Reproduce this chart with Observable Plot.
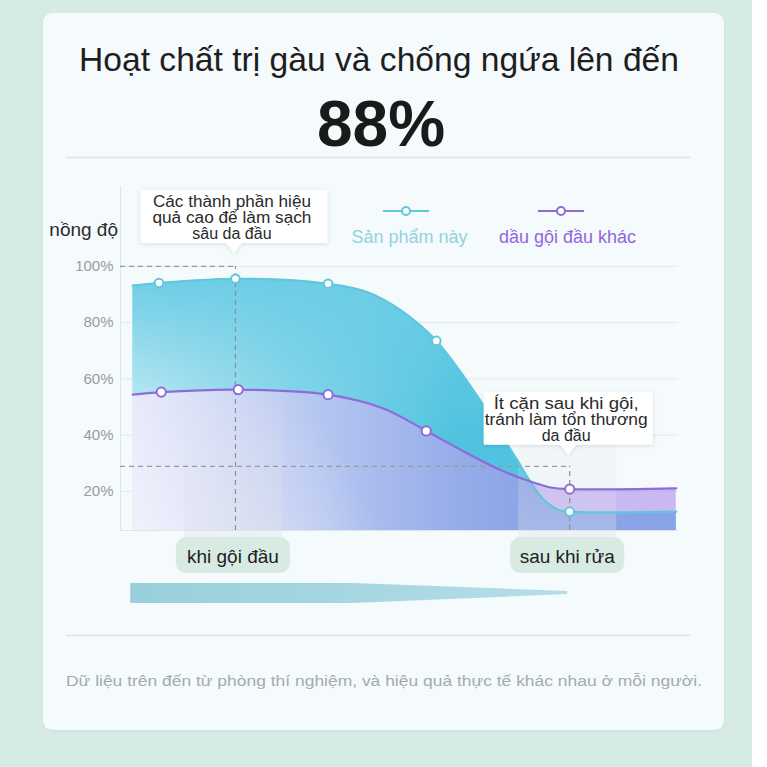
<!DOCTYPE html>
<html><head><meta charset="utf-8">
<script src="https://cdn.jsdelivr.net/npm/d3@7"></script>
<script src="https://cdn.jsdelivr.net/npm/@observablehq/plot@0.6"></script>
<style>
html,body{margin:0;padding:0;background:#ffffff;}
#page{position:relative;width:767px;height:767px;overflow:hidden;font-family:"Liberation Sans",Arial,sans-serif;}
#mint{position:absolute;left:0;top:0;width:752px;height:767px;background:#d6ebe4;}
#card{position:absolute;left:43px;top:13px;width:681px;height:717px;background:#f5fafd;border-radius:9px;box-shadow:0 1px 3px rgba(0,0,0,0.06);}
#head{position:absolute;left:0;top:0;}
#chart{position:absolute;left:0;top:180px;}
</style></head><body>
<div id="page">
  <div id="mint"></div>
  <div id="card"></div>
  <svg id="head" width="767" height="767" font-family="Liberation Sans, Arial, sans-serif">
    <text id="title" x="379" y="71" text-anchor="middle" font-size="33.5" fill="#1e1e1e" textLength="600" lengthAdjust="spacingAndGlyphs"></text>
    <text id="big" x="381" y="146" text-anchor="middle" font-size="64" font-weight="bold" fill="#1a1a1a"></text>
    <line x1="66" x2="691" y1="157.5" y2="157.5" stroke="#dde3e7" stroke-width="1.5"/>
    <line x1="66" x2="691" y1="635.5" y2="635.5" stroke="#dde3e7" stroke-width="1.5"/>
    <text id="foot" x="384" y="686" text-anchor="middle" font-size="15.5" fill="#a2acaa" textLength="636" lengthAdjust="spacingAndGlyphs"></text>
  </svg>
  <div id="chart"></div>
</div>
<script>
// ---- texts ----
const titleText = "Hoạt chất trị gàu và chống ngứa lên đến";
const bigText = "88%";
const footText = "Dữ liệu trên đến từ phòng thí nghiệm, và hiệu quả thực tế khác nhau ở mỗi người.";
const yLabel = "nồng độ";
const seriesNames = ["Sản phẩm này", "dầu gội đầu khác"];

// ---- data ----
const Y0 = 6.1, Y1 = 128.4;
const yTicks = [20, 40, 60, 80, 100];
const cyanX = [2.2, 6.9, 20.6, 37.2, 44.3, 50.2, 56.6, 65.1, 68.1, 71.1, 73.5, 75.8, 78.3, 80.5, 99.6];
const cyanY = [93.2, 94.1, 95.6, 93.8, 90.8, 84.4, 73.5, 50.5, 40.7, 31.1, 23.3, 17.2, 13.6, 12.8, 12.8];
const otherX = [2.2, 7.3, 21.1, 37.2, 47.1, 54.8, 62.2, 68.1, 73.5, 77.1, 80.5, 99.6];
const otherY = [54.4, 55.3, 56.2, 54.4, 49.5, 41.5, 33.5, 27.6, 23.5, 21.4, 20.8, 21.1];
const cyanMarkX = [6.9, 20.6, 37.2, 56.6, 80.5];
const cyanMarkY = [94.1, 95.6, 93.8, 73.5, 12.8];
const otherMarkX = [7.3, 21.1, 37.2, 54.8, 80.5];
const otherMarkY = [55.3, 56.2, 54.4, 41.5, 20.8];
const stageLabels = ["khi gội đầu", "sau khi rửa"];
const stageX = [20.6, 80.5];
const refY = [100, 28.9];
const noteLines = [
  ["Các thành phần hiệu", "quả cao để làm sạch", "sâu da đầu"],
  ["Ít cặn sau khi gội,", "tránh làm tổn thương", "da đầu"]
];

document.getElementById("title").textContent = titleText;
document.getElementById("big").textContent = bigText;
document.getElementById("foot").textContent = footText;

const cyanData = cyanX.map((x, i) => ({x, y: cyanY[i]}));
const otherData = otherX.map((x, i) => ({x, y: otherY[i]}));
const cyanMarks = cyanMarkX.map((x, i) => ({x, y: cyanMarkY[i]}));
const otherMarks = otherMarkX.map((x, i) => ({x, y: otherMarkY[i]}));
const refs = stageX.map((x, i) => ({x, y: refY[i]}));

const CYAN = "#5fc7dd", PURPLE = "#8d6cd9";
const FONT = "Liberation Sans, Arial, sans-serif";
const CURVE = "catmull-rom";

function defs(index, {x, y}) {
  const d = d3.create("svg:defs");
  const lg = (id, x1, y1, x2, y2, stops) => {
    const g = d.append("linearGradient").attr("id", id).attr("gradientUnits", "userSpaceOnUse")
      .attr("x1", x1).attr("y1", y1).attr("x2", x2).attr("y2", y2);
    for (const [o, c, a] of stops) g.append("stop").attr("offset", o).attr("stop-color", c).attr("stop-opacity", a ?? 1);
  };
  lg("cyanBase", x(0), 0, x(60), 0, [[0, "#d8f1f8"], [0.5, "#8fd8ea"], [1, "#4fc3df"]]);
  lg("cyanTop", 0, y(96), 0, y(38), [[0, "#6ccde5", 1], [1, "#6ccde5", 0]]);
  lg("otherBase", x(0), 0, x(75), 0, [[0, "#d9dbf6", 0.9], [0.5, "#bcc2f1", 0.85], [1, "#ae90ec", 0.62]]);
  lg("otherFade", x(0), y(Y0), x(36), y(46), [[0, "#f8f8fe", 0.8], [1, "#f8f8fe", 0]]);
  lg("band", 0, y(58), 0, y(Y0) + 35, [[0, "#dfe2e7", 0], [1, "#dfe2e7", 0.42]]);
  lg("taper", x(0), 0, x(80), 0, [[0, "#98cfdb"], [1, "#b4dee7"]]);
  const f = d.append("filter").attr("id", "shadow").attr("x", "-20%").attr("y", "-20%").attr("width", "140%").attr("height", "160%");
  f.append("feDropShadow").attr("dx", 0).attr("dy", 1).attr("stdDeviation", 2).attr("flood-color", "#000").attr("flood-opacity", 0.12);
  return d.node();
}

function bands(index, {x, y}) {
  const g = d3.create("svg:g");
  for (const s of stageX) {
    g.append("rect").attr("x", x(s) - 51).attr("width", 98)
      .attr("y", y(58)).attr("height", y(Y0) + 35 - y(58)).attr("fill", "url(#band)");
  }
  return g.node();
}

function extras(index, {x, y}, values, dims) {
  const g = d3.create("svg:g").attr("font-family", FONT);
  const base = y(Y0);
  // taper bar
  const left = x(cyanX[0]) - 2, tip = x(stageX[1]) - 2, kink = (left + tip) / 2 + 4;
  g.append("path").attr("fill", "url(#taper)")
    .attr("d", `M${left},${base + 53}L${kink},${base + 53}L${tip},${base + 61}L${tip},${base + 64}L${kink},${base + 73}L${left},${base + 73}Z`);
  // stage pills
  stageX.forEach((s, i) => {
    const cx = x(s) - 2;
    g.append("rect").attr("x", cx - 57).attr("y", base + 7).attr("width", 114).attr("height", 36)
      .attr("rx", 10).attr("fill", "#d7ebe3");
    g.append("text").attr("x", cx).attr("y", base + 33).attr("text-anchor", "middle")
      .attr("font-size", 19).attr("fill", "#222").text(stageLabels[i]);
  });
  // callouts
  const boxW = [187, 169];
  const lineW = [[158, 159, null], [145, 163, null]];
  noteLines.forEach((lines, i) => {
    const cx = x(stageX[i]) - 1;
    const tipY = i === 0 ? y(refY[0]) - 13 : y(refY[1]) - 11;
    const bottom = tipY - 10, top = bottom - 53, w = boxW[i];
    g.append("path").attr("filter", "url(#shadow)").attr("fill", "#ffffff")
      .attr("d", `M${cx - w / 2},${top}H${cx + w / 2}V${bottom}H${cx + 8}L${cx},${tipY}L${cx - 8},${bottom}H${cx - w / 2}Z`);
    lines.forEach((t, j) => {
      const tx = g.append("text").attr("x", cx - 2).attr("y", top + 17 + j * 16).attr("text-anchor", "middle")
        .attr("font-size", 16).attr("fill", "#2a2a2a").text(t);
      if (lineW[i][j]) tx.attr("textLength", lineW[i][j]).attr("lengthAdjust", "spacingAndGlyphs");
    });
  });
  // y label
  g.append("text").attr("x", dims.marginLeft - 2).attr("y", 56).attr("text-anchor", "end")
    .attr("font-size", 19).attr("fill", "#2b2b2b").text(yLabel);
  // legend
  const leg = [[CYAN, 406, "#93d2e0", 409.5], [PURPLE, 561, "#9466dd", 567.5]];
  leg.forEach(([c, sx, tc, tx], i) => {
    g.append("line").attr("x1", sx - 23).attr("x2", sx + 23).attr("y1", 31).attr("y2", 31)
      .attr("stroke", c).attr("stroke-width", 2);
    g.append("circle").attr("cx", sx).attr("cy", 31).attr("r", 4).attr("fill", "#fff")
      .attr("stroke", c).attr("stroke-width", 2);
    g.append("text").attr("x", tx).attr("y", 63).attr("text-anchor", "middle")
      .attr("font-size", 18).attr("fill", tc).text(seriesNames[i]);
  });
  return g.node();
}

const chart = Plot.plot({
  width: 767,
  height: 430,
  marginLeft: 120,
  marginRight: 89,
  marginTop: 6,
  marginBottom: 80,
  x: {domain: [0, 100], axis: null},
  y: {domain: [Y0, Y1], axis: null},
  style: {background: "transparent", fontFamily: FONT, overflow: "visible"},
  marks: [
    defs,
    Plot.gridY(yTicks, {stroke: "#e3e8ec", strokeOpacity: 1}),
    Plot.ruleX([0], {stroke: "#dfe4e8"}),
    Plot.ruleY([Y0], {stroke: "#dfe4e8"}),
    Plot.areaY(cyanData, {x: "x", y1: Y0, y2: "y", fill: "url(#cyanBase)", curve: CURVE}),
    Plot.areaY(cyanData, {x: "x", y1: Y0, y2: "y", fill: "url(#cyanTop)", curve: CURVE}),
    Plot.areaY(otherData, {x: "x", y1: Y0, y2: "y", fill: "url(#otherBase)", curve: CURVE}),
    Plot.areaY(otherData, {x: "x", y1: Y0, y2: "y", fill: "url(#otherFade)", curve: CURVE}),
    bands,
    Plot.ruleY(refs, {y: "y", x1: () => 0, x2: "x", stroke: "#9a9a9a", strokeWidth: 1.2, strokeDasharray: "5,4"}),
    Plot.ruleX(refs, {x: "x", y1: () => Y0, y2: "y", stroke: "#8f8f8f", strokeWidth: 1.2, strokeDasharray: "5,4"}),
    Plot.line(cyanData, {x: "x", y: "y", stroke: CYAN, strokeWidth: 2.2, curve: CURVE}),
    Plot.line(otherData, {x: "x", y: "y", stroke: PURPLE, strokeWidth: 2.2, curve: CURVE}),
    Plot.dot(cyanMarks, {x: "x", y: "y", r: 4.3, fill: "#ffffff", stroke: CYAN, strokeWidth: 2}),
    Plot.dot(otherMarks, {x: "x", y: "y", r: 4.6, fill: "#ffffff", stroke: PURPLE, strokeWidth: 2}),
    Plot.axisY(yTicks, {tickFormat: d => d + "%", tickSize: 0, tickPadding: 7, fontSize: 15, color: "#9a9a9a", label: null}),
    extras
  ]
});
document.getElementById("chart").appendChild(chart);
</script>
</body></html>
